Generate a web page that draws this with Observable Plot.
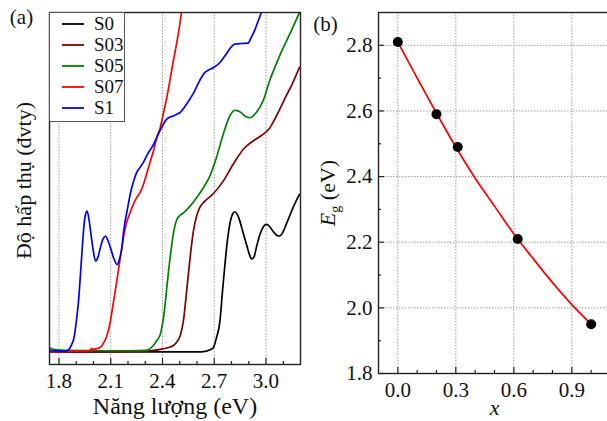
<!DOCTYPE html>
<html><head><meta charset="utf-8">
<script src="https://cdn.jsdelivr.net/npm/d3@7"></script>
<script src="https://cdn.jsdelivr.net/npm/@observablehq/plot@0.6"></script>
<style>
html,body{margin:0;padding:0;background:#fff;}
#wrap{position:relative;width:607px;height:421px;overflow:hidden;background:#fff;font-family:'Liberation Serif','DejaVu Serif','Times New Roman',Times,serif;}
#wrap > svg{position:absolute;top:0;}
#wrap text{font-family:'Liberation Serif','DejaVu Serif','Times New Roman',Times,serif;}
#legend{position:absolute;left:49px;top:12px;width:76px;height:110px;box-sizing:border-box;border:1px solid #555;background:#fff;padding-top:1px;}
#legend .row{display:flex;align-items:center;height:20.8px;padding-left:12px;font-size:19px;color:#111;}
#legend .row svg{display:block;margin-right:10px;}
</style></head><body><div id="wrap"></div>
<script>
// ---------- Panel (a) data : absorbance spectra (arb. units, 0-100 of plot height) ----------
const seriesNames = ["S0", "S03", "S05", "S07", "S1"];
const seriesColors = ["#000000", "#7f0000", "#008000", "#ff0000", "#0000ff"];

const s0Energy = [1.748,2.0,2.3,2.5,2.62,2.656,2.675,2.694,2.713,2.733,2.748,2.762,2.777,2.79,2.806,2.819,2.835,2.848,2.867,2.887,2.906,2.915,2.93,2.944,2.964,2.983,3.002,3.021,3.04,3.06,3.079,3.098,3.117,3.137,3.156,3.175,3.194];
const s0Abs    = [3.6,3.6,3.6,3.6,3.6,3.8,4.2,4.7,7.6,12.3,20.9,28.4,35.5,39.8,42.7,43.4,42.5,40.8,37.5,34.1,31,30,30.5,33.2,36.8,39,39.8,39.2,37.9,36.8,36.5,37.6,39.8,42.2,44.5,46.5,48.3];

const s03Energy = [1.748,2.0,2.2,2.3,2.35,2.387,2.425,2.463,2.483,2.502,2.521,2.54,2.56,2.579,2.598,2.617,2.646,2.694,2.752,2.81,2.867,2.925,2.983,3.021,3.06,3.117,3.156,3.194];
const s03Abs    = [3.6,3.6,3.7,3.8,4.0,4.3,4.7,5.4,6.4,8.1,12.3,20.9,30.3,37.9,42.2,44.7,46.4,48.5,52.1,56.9,61.1,63.5,65.4,67.1,70.6,76.3,80.1,84.4];

const s05Energy = [1.748,1.78,1.85,2.0,2.2,2.3,2.33,2.35,2.367,2.387,2.396,2.406,2.415,2.425,2.435,2.444,2.454,2.463,2.473,2.483,2.502,2.521,2.56,2.598,2.637,2.675,2.713,2.752,2.79,2.819,2.848,2.887,2.906,2.944,2.983,3.021,3.079,3.137,3.194];
const s05Abs    = [4.7,4.2,4.0,3.9,3.9,4.0,4.6,5.6,6.8,8.5,10.5,13.3,17,21.8,26.5,30.3,34.1,37.2,39.6,41.2,42.4,43.1,45,47.4,50.2,53.6,58.8,65.4,70.6,72.2,71.8,70.3,70.1,71.6,74.9,80.6,87.7,93.8,100];

const s07Energy = [1.748,1.9,1.98,1.99,2.0,2.02,2.04,2.06,2.077,2.096,2.115,2.135,2.154,2.173,2.192,2.212,2.231,2.25,2.27,2.29,2.31,2.33,2.35,2.367,2.387,2.406,2.425,2.444,2.463,2.483,2.502,2.51];
const s07Abs    = [3.6,3.8,4.0,4.6,4.3,4.5,4.9,6.2,8.1,11.8,17.5,23.7,29.9,36,40.3,43.1,45.5,47.4,48.8,51.2,54.5,57.8,61.1,64.5,67.3,71.6,75.8,81,86.3,91.5,97.2,100];

const s1Energy = [1.748,1.8,1.84,1.858,1.872,1.887,1.9,1.915,1.925,1.935,1.944,1.954,1.963,1.973,1.983,1.998,2.012,2.026,2.04,2.055,2.069,2.083,2.098,2.117,2.137,2.151,2.165,2.175,2.198,2.217,2.233,2.25,2.27,2.29,2.31,2.348,2.387,2.425,2.444,2.463,2.483,2.502,2.54,2.579,2.617,2.646,2.665,2.694,2.733,2.771,2.8,2.819,2.858,2.896,2.915,2.935,2.954,2.973];
const s1Abs    = [4.0,3.8,3.8,4.3,5.5,7.6,12,19,26,33.2,39,42.7,43.6,41.5,37.9,32.5,29.4,30.5,33.2,35.6,36.5,35.3,33.2,30.2,28.4,30,33.2,37.9,44.5,49.3,52.1,54.5,56,57.5,59.5,62.5,66.6,69.7,70.3,70.6,71.1,71.6,74,77,80.8,83,83.6,84.3,85.8,88.3,90.3,91,91.2,91.3,93,95,97.5,100];

const aMajorTicks = [1.8, 2.1, 2.4, 2.7, 3.0];
const aMinorTicks = [1.9, 2.0, 2.2, 2.3, 2.5, 2.6, 2.8, 2.9, 3.1];
const xLabelA = "Năng lượng (eV)";
const yLabelA = "Độ hấp thụ (đvty)";

// ---------- Panel (b) data : band gap vs composition ----------
const compX = [0, 0.2, 0.31, 0.62, 1.0];
const bandGap = [2.81, 2.59, 2.49, 2.21, 1.95];
const fitX  = [0, 0.1, 0.2, 0.3, 0.4, 0.5, 0.6, 0.7, 0.8, 0.9, 1.0];
const fitEg = [2.81, 2.70, 2.593, 2.49, 2.395, 2.31, 2.225, 2.15, 2.077, 2.01, 1.95];
const bXMajor = [0, 0.3, 0.6, 0.9];
const bXMinor = [0.1, 0.2, 0.4, 0.5, 0.7, 0.8, 1.0];
const bYMajor = [1.8, 2.0, 2.2, 2.4, 2.6, 2.8];
const bYMinor = [1.9, 2.1, 2.3, 2.5, 2.7];
const bYGrid  = [2.0, 2.2, 2.4, 2.6, 2.8];

// ---------- build tables ----------
const energies = [s0Energy, s03Energy, s05Energy, s07Energy, s1Energy];
const absorb = [s0Abs, s03Abs, s05Abs, s07Abs, s1Abs];
const spectra = seriesNames.map((name, i) => energies[i].map((e, j) => ({name, E: e, A: absorb[i][j]})));
const points = compX.map((x, i) => ({x, eg: bandGap[i]}));
const fit = fitX.map((x, i) => ({x, eg: fitEg[i]}));

const font = "'Liberation Serif','DejaVu Serif','Times New Roman',Times,serif";
const gridStyle = {stroke: "#a0a0a0", strokeDasharray: "1.5,1.5", strokeWidth: 1};
const txt = {textAnchor: "middle", lineAnchor: "middle", fill: "#111"};

// ---------- Panel (a) ----------
const A = {w: 305, h: 421, ml: 49, mr: 5, mt: 12, mb: 57};
const innerHA = A.h - A.mt - A.mb;
const panelA = Plot.plot({
  width: A.w, height: A.h,
  marginLeft: A.ml, marginRight: A.mr, marginTop: A.mt, marginBottom: A.mb,
  style: {background: "transparent", fontFamily: font, overflow: "visible", color: "#111"},
  x: {domain: [1.745, 3.2]},
  y: {domain: [0, 100], axis: null},
  marks: [
    Plot.ruleX(aMajorTicks, {x: d => d, ...gridStyle}),
    ...spectra.map((s, i) => Plot.line(s, {x: "E", y: "A", stroke: seriesColors[i], strokeWidth: 1.7, curve: "monotone-x", clip: true})),
    Plot.tickX(aMajorTicks, {x: d => d, insetTop: innerHA - 6, stroke: "#222", strokeWidth: 1.2}),
    Plot.tickX(aMinorTicks, {x: d => d, insetTop: innerHA - 3, stroke: "#222", strokeWidth: 1.2}),
    Plot.axisX({ticks: aMajorTicks, tickSize: 0, tickPadding: 9, tickFormat: d3.format(".1f"), fontSize: 21, label: null}),
    Plot.frame({stroke: "#222", strokeWidth: 1.4}),
    Plot.text([xLabelA], {frameAnchor: "bottom", dy: 42, fontSize: 24, ...txt}),
    Plot.text([yLabelA], {frameAnchor: "left", rotate: -90, dx: -26, dy: -8, fontSize: 22, ...txt}),
    Plot.text(["(a)"], {frameAnchor: "top-left", dx: -28, dy: 5, fontSize: 21, ...txt})
  ]
});
panelA.style.left = "0px";

// ---------- Panel (b) ----------
const B = {w: 310, h: 421, ml: 78, mr: 0, mt: 12, mb: 48};
const innerHB = B.h - B.mt - B.mb;
const innerWB = B.w - B.ml - B.mr;
const panelB = Plot.plot({
  width: B.w, height: B.h,
  marginLeft: B.ml, marginRight: B.mr, marginTop: B.mt, marginBottom: B.mb,
  style: {background: "transparent", fontFamily: font, overflow: "visible", color: "#111"},
  x: {domain: [-0.1, 1.1]},
  y: {domain: [1.8, 2.9]},
  marks: [
    Plot.ruleX(bXMajor, {x: d => d, ...gridStyle}),
    Plot.ruleY(bYGrid, {y: d => d, ...gridStyle}),
    Plot.tickX(bXMajor, {x: d => d, insetTop: innerHB - 6, stroke: "#222", strokeWidth: 1.2}),
    Plot.tickX(bXMinor, {x: d => d, insetTop: innerHB - 3, stroke: "#222", strokeWidth: 1.2}),
    Plot.tickY(bYMajor, {y: d => d, insetRight: innerWB - 6, stroke: "#222", strokeWidth: 1.2}),
    Plot.tickY(bYMinor, {y: d => d, insetRight: innerWB - 3, stroke: "#222", strokeWidth: 1.2}),
    Plot.axisX({ticks: bXMajor, tickSize: 0, tickPadding: 9, tickFormat: d3.format(".1f"), fontSize: 21, label: null}),
    Plot.axisY({ticks: bYMajor, tickSize: 0, tickPadding: 6, tickFormat: d3.format(".1f"), fontSize: 21, label: null}),
    Plot.line(fit, {x: "x", y: "eg", stroke: "#ff0000", strokeWidth: 1.7, curve: "monotone-x"}),
    Plot.dot(points, {x: "x", y: "eg", r: 5, fill: "#000", stroke: "none"}),
    Plot.frame({stroke: "#222", strokeWidth: 1.4}),
    Plot.text(["x"], {frameAnchor: "bottom", dy: 34, fontSize: 22, fontStyle: "italic", ...txt}),
    Plot.text(["Eg (eV)"], {frameAnchor: "left", rotate: -90, dx: -51, fontSize: 22, ...txt}),
    Plot.text(["(b)"], {frameAnchor: "top-left", dx: -53, dy: 12, fontSize: 21, ...txt})
  ]
});
panelB.style.left = "300px";

// subscript for E_g
d3.select(panelB).selectAll("text").filter(function() { return this.textContent === "Eg (eV)"; })
  .each(function() {
    const t = d3.select(this);
    t.text(null);
    t.append("tspan").attr("font-style", "italic").text("E");
    t.append("tspan").attr("font-size", 14).attr("dy", 5).text("g");
    t.append("tspan").attr("dy", -5).text(" (eV)");
  });

// make sure every text uses the serif family
for (const svg of [panelA, panelB]) {
  svg.setAttribute("font-family", font);
  d3.select(svg).selectAll("text").attr("font-family", font);
}

const wrap = document.getElementById("wrap");
wrap.appendChild(panelA);
wrap.appendChild(panelB);

// legend (HTML), from series names and colours
const legend = document.createElement("div");
legend.id = "legend";
seriesNames.forEach((name, i) => {
  const row = document.createElement("div");
  row.className = "row";
  row.innerHTML = `<svg width="22" height="4"><line x1="0" y1="2" x2="22" y2="2" stroke="${seriesColors[i]}" stroke-width="1.8"/></svg><span>${name}</span>`;
  legend.appendChild(row);
});
wrap.appendChild(legend);
</script></body></html>
